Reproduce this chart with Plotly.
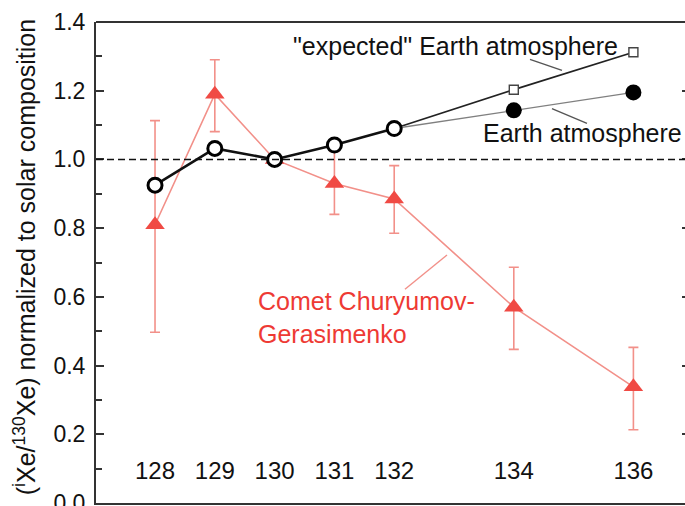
import plotly.graph_objects as go

# ---- data ----
mass_lo = [128, 129, 130, 131, 132]
earth_lo = [0.925, 1.032, 1.0, 1.042, 1.09]

mass_hi = [132, 134, 136]
expected_hi = [1.09, 1.203, 1.312]
earth_atm_hi = [1.09, 1.143, 1.195]

comet_mass = [128, 129, 130, 131, 132, 134, 136]
comet_val = [0.81, 1.19, 1.0, 0.93, 0.885, 0.57, 0.338]
comet_err_plus = [0.303, 0.10, 0.0, 0.093, 0.097, 0.116, 0.115]
comet_err_minus = [0.313, 0.109, 0.0, 0.09, 0.10, 0.123, 0.125]

x_tick_vals = [128, 129, 130, 131, 132, 134, 136]
x_tick_text = ["128", "129", "130", "131", "132", "134", "136"]
y_tick_vals = [0.0, 0.2, 0.4, 0.6, 0.8, 1.0, 1.2, 1.4]

FONT = "Liberation Sans, Arial, sans-serif"
RED_TXT = "#ee3a34"
RED_MK = "#f04a44"
RED_LN = "#f29089"

fig = go.Figure()

# comet
fig.add_trace(go.Scatter(
    x=comet_mass, y=comet_val, mode="lines+markers",
    line=dict(color=RED_LN, width=1.6),
    marker=dict(symbol="triangle-up", size=17, color=RED_MK, line=dict(width=0)),
    error_y=dict(type="data", symmetric=False, array=comet_err_plus,
                 arrayminus=comet_err_minus, color=RED_LN, thickness=1.6, width=5),
    showlegend=False, hoverinfo="skip"))

# expected Earth atmosphere line
fig.add_trace(go.Scatter(
    x=mass_hi, y=expected_hi, mode="lines",
    line=dict(color="#222222", width=1.7), showlegend=False, hoverinfo="skip"))
fig.add_trace(go.Scatter(
    x=mass_hi[1:], y=expected_hi[1:], mode="markers",
    marker=dict(symbol="square", size=9, color="white", line=dict(color="#444444", width=1.4)),
    showlegend=False, hoverinfo="skip"))

# Earth atmosphere (measured)
fig.add_trace(go.Scatter(
    x=mass_hi, y=earth_atm_hi, mode="lines",
    line=dict(color="#808080", width=1.3), showlegend=False, hoverinfo="skip"))
fig.add_trace(go.Scatter(
    x=mass_hi[1:], y=earth_atm_hi[1:], mode="markers",
    marker=dict(symbol="circle", size=16, color="black", line=dict(width=0)),
    showlegend=False, hoverinfo="skip"))

# Earth low-mass isotopes
fig.add_trace(go.Scatter(
    x=mass_lo, y=earth_lo, mode="lines+markers",
    line=dict(color="#111111", width=2.6),
    marker=dict(symbol="circle", size=14, color="white", line=dict(color="black", width=3)),
    showlegend=False, hoverinfo="skip"))

# x "tick" labels drawn inside the plot
fig.add_trace(go.Scatter(
    x=x_tick_vals, y=[0.087] * len(x_tick_vals), mode="text", text=x_tick_text,
    textfont=dict(family=FONT, size=24, color="#111111"),
    showlegend=False, hoverinfo="skip"))

# invisible trace on mirrored right axis
fig.add_trace(go.Scatter(x=[130], y=[0.5], yaxis="y2", mode="markers",
                         marker=dict(opacity=0), showlegend=False, hoverinfo="skip"))

# dashed reference line at 1.0
fig.add_shape(type="line", xref="paper", x0=0, x1=1, yref="y", y0=1.0, y1=1.0,
              line=dict(color="#111111", width=1.5, dash="7px,4px"))
# top frame
fig.add_shape(type="line", xref="paper", x0=0, x1=1, yref="paper", y0=1, y1=1,
              line=dict(color="#333333", width=2))

# pointer lines
fig.add_shape(type="line", x0=134.27, y0=1.291, x1=134.806, y1=1.259,
              line=dict(color="#555555", width=1.4))
fig.add_shape(type="line", x0=134.638, y0=1.148, x1=135.224, y1=1.105,
              line=dict(color="#555555", width=1.4))
fig.add_shape(type="line", x0=132.18, y0=0.622, x1=132.883, y1=0.722,
              line=dict(color=RED_LN, width=1.4))

# annotations
fig.add_annotation(x=133.025, y=1.329, text='"expected" Earth atmosphere', showarrow=False,
                   font=dict(family=FONT, size=25, color="#111111"), xanchor="center", yanchor="middle")
fig.add_annotation(x=135.149, y=1.0756, text="Earth atmosphere", showarrow=False,
                   font=dict(family=FONT, size=25, color="#111111"), xanchor="center", yanchor="middle")
fig.add_annotation(x=129.689, y=0.540, text="Comet Churyumov-<br>Gerasimenko", showarrow=False,
                   align="left", font=dict(family=FONT, size=25, color=RED_TXT),
                   xanchor="left", yanchor="middle")
fig.add_annotation(xref="paper", yref="paper", x=(25 - 96) / 589, y=0.511,
                   text="(<sup>i</sup>Xe/<sup>130</sup>Xe) normalized to solar composition",
                   textangle=-90, showarrow=False, xanchor="center", yanchor="middle",
                   font=dict(family=FONT, size=25, color="#111111"))

fig.update_layout(
    width=685, height=506,
    margin=dict(l=96, r=0, t=21.5, b=3.25, pad=0, autoexpand=False),
    paper_bgcolor="white", plot_bgcolor="white",
    font=dict(family=FONT, color="#111111"),
    xaxis=dict(range=[127.013, 136.863], showgrid=False, zeroline=False,
               showline=True, linecolor="#333333", linewidth=2,
               showticklabels=False, ticks="", automargin=False),
    yaxis=dict(range=[0, 1.4], tickvals=y_tick_vals, tickformat=".1f",
               showgrid=False, zeroline=False, showline=True, linecolor="#333333", linewidth=2,
               ticks="inside", ticklen=8, tickwidth=1.5, tickcolor="#333333",
               minor=dict(dtick=0.1, ticks="inside", ticklen=6, tickwidth=1.5, tickcolor="#333333"),
               tickfont=dict(family=FONT, size=23, color="#111111"), ticklabelstandoff=4,
               ticklabeloverflow="allow", automargin=False),
    yaxis2=dict(range=[0, 1.4], overlaying="y", side="right", showgrid=False, zeroline=False,
                showline=False, tickvals=y_tick_vals, showticklabels=False, automargin=False,
                ticks="inside", ticklen=3, tickwidth=1.5, tickcolor="#333333"),
)

fig.write_html("out.html")
